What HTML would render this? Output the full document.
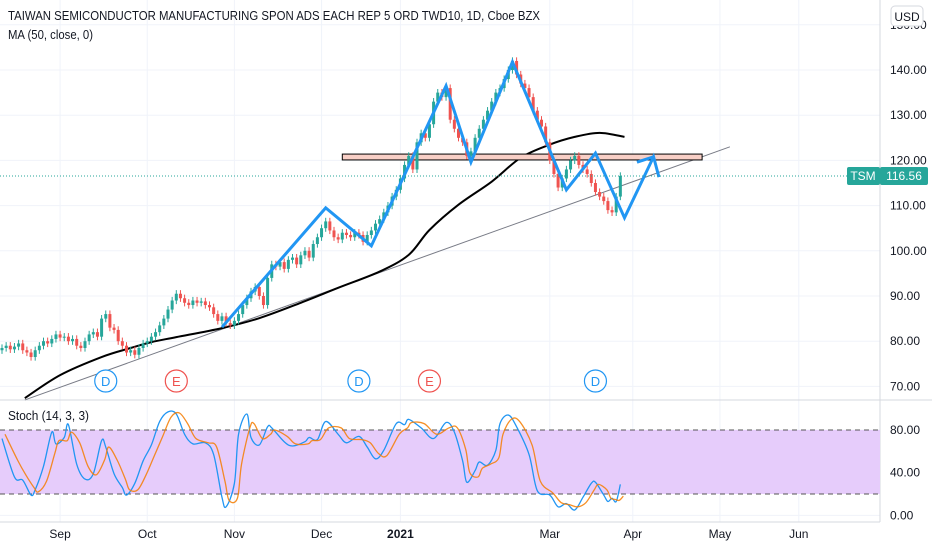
<!DOCTYPE html>
<html><head><meta charset="utf-8">
<style>
html,body{margin:0;padding:0;background:#fff;}
svg{display:block;font-family:"Liberation Sans",sans-serif;}
</style></head>
<body>
<svg id="chart" width="932" height="550" viewBox="0 0 932 550"></svg>
<script>
// ---- data ----
const closes = [78.5,79,78.2,78.8,79.5,78,77.5,76.5,78,79,80,79.5,80.5,81.5,80.8,
81,80,80.5,79,78.5,80,81.5,82,81,85,86,83,82.5,80,79,77.5,78,77,78.5,79.5,
80,81,82,83.5,85,87,89,90.5,89.5,88.5,88,89,88.5,88.8,88,87.5,86,84.5,85.5,84,83.5,
84.5,86,88,89.5,91,92,90,88,94,97,96.5,97.5,96,98,98.5,97,99,100,98.5,101.5,103,
105,106.5,104.5,103,102.5,104,103.5,103,104,103.5,102,103.5,104.5,106,107,108.5,110,112,113.5,
116,119,121,118,124,126,125,128,133,135,134,136,129,127,125,124,121,122,125,
127,129,131,133,135,136,138,140,142,139,137,136,134,131,129,127.5,
124,120,117,114,116,118,120,121,119,118,117,115,113,112,111,109,108.5,112,116.56];
const maIdx = [5.5,14,24,31,36,42,53,62,72,81,91,98,103,110,118,125,132,138,144,150];
const maVals = [67.4,72.5,76.5,78.5,79.8,80.9,82.9,85.1,88.5,91.8,95.4,99.1,104.6,110.2,115.3,120.6,123.5,125.2,126.1,125.2];
const priceTicks = [70,80,90,100,110,120,130,140,150];
const monthLabels = ["Sep","Oct","Nov","Dec","2021","Mar","Apr","May","Jun"];
const monthIdx = [14,35,56,77,96,132,152,173,192];
const stochIdx = [0,3,5,7,8,10,12,13,15,16,18,20,22,24,25,27,29,30,32,34,36,38,40,42,44,46,49,51,53,54,56,57,59,60,62,64,65,68,70,73,74,76,78,81,83,86,88,90,92,95,97,98,101,104,107,109,111,112,114,115,117,119,120,122,124,127,129,132,134,136,138,140,142,143,145,146,147,148,149];
const kVals = [72,36,33,19,24,46,78,67,73,85,48,34,39,70,64,39,26,19,30,51,66,88,97,95,76,67,68,57,17,8,30,76,95,73,66,83,82,69,65,69,73,71,88,76,68,74,64,53,61,86,85,90,82,72,87,78,51,31,42,50,47,61,86,94,83,57,23,19,8,11,5,17,30,31,19,13,16,13,29];
const dVals = [76,52,38,26,22,32,58,70,70,78,68,46,38,52,64,52,34,24,24,38,56,74,92,96,86,72,68,64,32,14,16,48,82,86,72,76,80,74,67,67,70,71,82,82,72,71,68,58,56,76,82,87,86,76,82,82,62,40,36,44,48,54,76,90,88,66,32,21,12,10,8,12,24,29,24,16,15,14,18];
const stochTicks = [0,40,80];
const zigIdx = [53,78,89,107,113,123,136,143,150,157,158.3];
const zigP = [83.1,109.5,101.1,136.5,119.6,141.8,113.5,121.6,107.3,120.8,116.3];
const events = [{i:25,t:"D"},{i:42,t:"E"},{i:86,t:"D"},{i:103,t:"E"},{i:143,t:"D"}];
const lastPrice = 116.56;

// ---- scales ----
const X = i => 2 + i*4.15;
const Y = p => 70 + (140-p)*4.52;
const SY = v => 430 + (80-v)*1.0667;
const svg = document.getElementById('chart');
const NS = 'http://www.w3.org/2000/svg';
function mk(tag, attrs, parent){const e=document.createElementNS(NS,tag);for(const k in attrs)e.setAttribute(k,attrs[k]);(parent||svg).appendChild(e);return e;}
function smooth(pts){
  let d='M'+pts[0][0]+','+pts[0][1];
  for(let k=0;k<pts.length-1;k++){
    const p0=pts[Math.max(0,k-1)],p1=pts[k],p2=pts[k+1],p3=pts[Math.min(pts.length-1,k+2)];
    const c1x=p1[0]+(p2[0]-p0[0])/6,c1y=p1[1]+(p2[1]-p0[1])/6;
    const c2x=p2[0]-(p3[0]-p1[0])/6,c2y=p2[1]-(p3[1]-p1[1])/6;
    d+=' C'+c1x+','+c1y+' '+c2x+','+c2y+' '+p2[0]+','+p2[1];
  }
  return d;
}

// grid
const grid = mk('g',{});


priceTicks.forEach(p=>mk('line',{x1:0,x2:880,y1:Y(p),y2:Y(p),stroke:'#f0f3fa'},grid));
stochTicks.forEach(v=>mk('line',{x1:0,x2:880,y1:SY(v),y2:SY(v),stroke:'#f0f3fa'},grid));
monthIdx.forEach(i=>mk('line',{x1:X(i),x2:X(i),y1:0,y2:522,stroke:'#f0f3fa'},grid));

// axes frame
mk('line',{x1:880,x2:880,y1:0,y2:522,stroke:'#d6d8df'});
mk('line',{x1:0,x2:932,y1:400,y2:400,stroke:'#d6d8df'});
mk('line',{x1:0,x2:880,y1:522,y2:522,stroke:'#d6d8df'});

// price ticks
priceTicks.forEach(p=>{const t=mk('text',{x:890,y:Y(p)+4,'font-size':12,fill:'#131722'});t.textContent=p.toFixed(2);
});
stochTicks.forEach(v=>{const t=mk('text',{x:890,y:SY(v)+4,'font-size':12,fill:'#131722'});t.textContent=v.toFixed(2);
});
monthLabels.forEach((m,k)=>{const t=mk('text',{x:X(monthIdx[k]),y:538,'font-size':12,fill:'#131722','text-anchor':'middle','font-weight':m==='2021'?'bold':'normal'});t.textContent=m;
});

// stoch band
const band = mk('rect',{x:0,y:SY(80),width:880,height:SY(20)-SY(80),fill:'#e6ccfb'});


[80,20].forEach(v=>mk('line',{x1:0,x2:880,y1:SY(v),y2:SY(v),stroke:'#555','stroke-dasharray':'5,4'}));

// trendline
const tl = mk('line',{x1:X(5.5),y1:Y(67),x2:X(175.4),y2:Y(123),stroke:'#787b86','stroke-width':1});



// MA
const ma = mk('path',{d:smooth(maIdx.map((i,k)=>[X(i),Y(maVals[k])])),fill:'none',stroke:'#000','stroke-width':2});



// resistance rect
const rr = mk('rect',{x:X(82),y:Y(121.4),width:X(168.7)-X(82),height:Y(120.1)-Y(121.4),fill:'#f8cfc6',stroke:'#000','stroke-width':1});



// candles
const cg = mk('g',{});


closes.forEach((c,i)=>{
  const o = i? closes[i-1] : c-0.5;
  const col = c>=o ? '#26a69a' : '#ef5350';
  const hi = Math.max(o,c)+0.8, lo = Math.min(o,c)-0.8;
  const x = X(i);
  mk('line',{x1:x,x2:x,y1:Y(hi),y2:Y(lo),stroke:col,'stroke-width':1},cg);
  const r = mk('rect',{x:x-1.5,y:Y(Math.max(o,c)),width:3,height:Math.max(1,Math.abs(Y(o)-Y(c))),fill:col},cg);
  
  
});

// zigzag
const zz = mk('path',{d:zigIdx.map((i,k)=>(k?'L':'M')+X(i)+','+Y(zigP[k])).join(' '),fill:'none',stroke:'#2196f3','stroke-width':3,'stroke-linejoin':'miter'});


const ah = mk('line',{x1:X(153),y1:Y(119.6),x2:X(157),y2:Y(120.8),stroke:'#2196f3','stroke-width':3});



// last price line
mk('line',{x1:0,x2:880,y1:Y(lastPrice),y2:Y(lastPrice),stroke:'#26a69a','stroke-dasharray':'1,2'});
const tb = mk('rect',{x:847,y:Y(lastPrice)-9,width:33,height:18,fill:'#26a69a',rx:2});


const tt = mk('text',{x:863,y:Y(lastPrice)+4,'font-size':12,fill:'#fff','text-anchor':'middle'});tt.textContent='TSM';
const pb = mk('rect',{x:880,y:Y(lastPrice)-9,width:48,height:18,fill:'#26a69a',rx:2});


const pt = mk('text',{x:904,y:Y(lastPrice)+4,'font-size':12,fill:'#fff','text-anchor':'middle'});pt.textContent='116.56';

// events
events.forEach(ev=>{
  const col = ev.t==='D' ? '#2196f3' : '#ef5350';
  const g = mk('g',{});
  
  
  mk('circle',{cx:X(ev.i),cy:381,r:11,fill:'#fff',stroke:col,'stroke-width':1.2},g);
  const t = mk('text',{x:X(ev.i),y:386,'font-size':13,fill:col,'text-anchor':'middle'},g);t.textContent=ev.t;
});

// stoch lines
const kp = mk('path',{d:smooth(stochIdx.map((i,k)=>[X(i),SY(kVals[k])])),fill:'none',stroke:'#2196f3','stroke-width':1.3});


const dp = mk('path',{d:smooth(stochIdx.map((i,k)=>[X(i)+3,SY(dVals[k])])),fill:'none',stroke:'#f57c00','stroke-width':1.3,'stroke-opacity':0.85});



// titles
const t1 = mk('text',{x:8,y:20,'font-size':12.5,fill:'#131722',textLength:532,lengthAdjust:'spacingAndGlyphs'});t1.textContent='TAIWAN SEMICONDUCTOR MANUFACTURING SPON ADS EACH REP 5 ORD TWD10, 1D, Cboe BZX';

const t2 = mk('text',{x:8,y:39,'font-size':12.5,fill:'#131722',textLength:85,lengthAdjust:'spacingAndGlyphs'});t2.textContent='MA (50, close, 0)';

const t3 = mk('text',{x:8,y:420,'font-size':12.5,fill:'#131722',textLength:81,lengthAdjust:'spacingAndGlyphs'});t3.textContent='Stoch (14, 3, 3)';

const ub = mk('rect',{x:891,y:6,width:32,height:20,rx:4,fill:'#fff',stroke:'#d6d8df'});


const ut = mk('text',{x:907,y:21,'font-size':12,fill:'#131722','text-anchor':'middle'});ut.textContent='USD';
</script>
</body></html>
